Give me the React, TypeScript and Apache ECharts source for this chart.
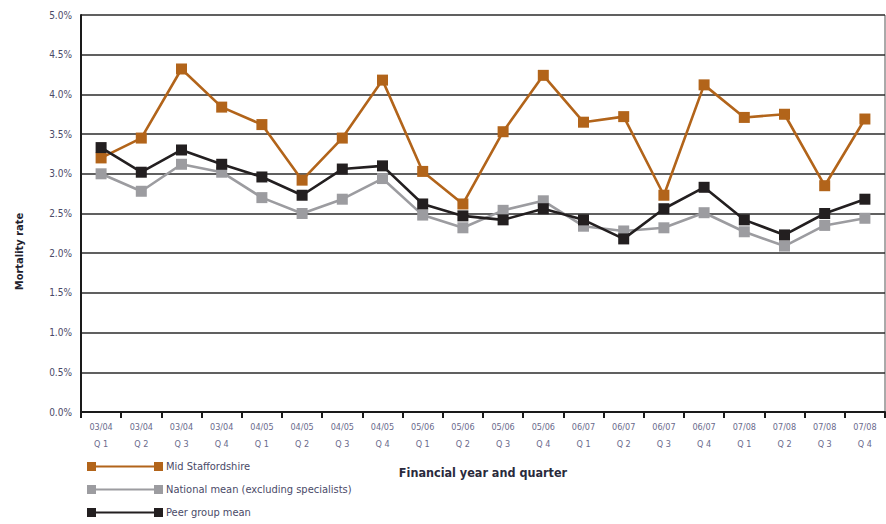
import React, { useEffect, useRef } from "react";
import * as echarts from "echarts";

// Quarterly periods, financial year on the first line and quarter on the second
const years = [
  "03/04", "03/04", "03/04", "03/04",
  "04/05", "04/05", "04/05", "04/05",
  "05/06", "05/06", "05/06", "05/06",
  "06/07", "06/07", "06/07", "06/07",
  "07/08", "07/08", "07/08", "07/08",
];
const quarters = [
  "Q 1", "Q 2", "Q 3", "Q 4",
  "Q 1", "Q 2", "Q 3", "Q 4",
  "Q 1", "Q 2", "Q 3", "Q 4",
  "Q 1", "Q 2", "Q 3", "Q 4",
  "Q 1", "Q 2", "Q 3", "Q 4",
];

// Mortality rate, per cent
const midStaffordshire = [
  3.2, 3.45, 4.32, 3.84, 3.62, 2.92, 3.45, 4.18, 3.03, 2.62,
  3.53, 4.24, 3.65, 3.72, 2.73, 4.12, 3.71, 3.75, 2.85, 3.69,
];
const nationalMean = [
  3.0, 2.78, 3.12, 3.02, 2.7, 2.5, 2.68, 2.94, 2.48, 2.32,
  2.54, 2.66, 2.34, 2.28, 2.32, 2.51, 2.27, 2.09, 2.35, 2.44,
];
const peerGroupMean = [
  3.33, 3.02, 3.3, 3.12, 2.96, 2.73, 3.06, 3.1, 2.62, 2.47,
  2.42, 2.56, 2.42, 2.18, 2.56, 2.83, 2.42, 2.23, 2.5, 2.68,
];

const seriesNames = [
  "Mid Staffordshire",
  "National mean (excluding specialists)",
  "Peer group mean",
];

const yTicks = { min: 0, max: 5, interval: 0.5 };

const ORANGE = "#b2641a";
const GREY = "#9c9ca0";
const BLACK = "#231f20";
const TEXT = "#4a4a68";
const FONT = "'Liberation Sans Narrow', 'DejaVu Sans Condensed', 'Roboto', sans-serif";

// Legend glyph: a short line capped with a square at each end
const legendIcon =
  "path://M0,0 H9 V9 H0 Z M9,3.5 H67 V5.5 H9 Z M67,0 H76 V9 H67 Z";

export default function App() {
  const ref = useRef<HTMLDivElement>(null);

  useEffect(() => {
    if (!ref.current) return;
    const chart = echarts.init(ref.current, undefined, { renderer: "svg" });
    const categories = years.map((y, i) => `${y}\n${quarters[i]}`);

    const line = (name: string, data: number[], color: string, z: number) => ({
      name,
      type: "line" as const,
      data,
      z,
      symbol: "rect",
      symbolSize: 11,
      lineStyle: { color, width: 2.6 },
      itemStyle: { color },
      emphasis: { disabled: true },
    });

    chart.setOption({
      animation: false,
      backgroundColor: "#ffffff",
      textStyle: { fontFamily: FONT },
      grid: { left: 81, right: 1, top: 15, bottom: 112, containLabel: false },
      legend: {
        orient: "vertical",
        left: 82,
        top: 456,
        height: 72,
        itemWidth: 76,
        itemHeight: 9,
        itemGap: 12,
        icon: legendIcon,
        selectedMode: false,
        textStyle: { color: TEXT, fontSize: 11, fontFamily: FONT, padding: [0, 0, 0, -2] },
        data: seriesNames,
      },
      xAxis: {
        type: "category",
        data: categories,
        boundaryGap: true,
        name: "Financial year and quarter",
        nameLocation: "middle",
        nameGap: 54,
        nameTextStyle: { color: "#2a2a3c", fontSize: 12.5, fontWeight: "bold", fontFamily: FONT },
        axisLine: { lineStyle: { color: "#1a1a1a", width: 2 } },
        axisTick: { show: true, length: 6, lineStyle: { color: "#1a1a1a", width: 2 } },
        axisLabel: {
          color: "#6a6a8c",
          fontSize: 9,
          lineHeight: 17,
          margin: 6,
          interval: 0,
          fontFamily: FONT,
        },
        splitLine: { show: false },
      },
      yAxis: {
        type: "value",
        min: yTicks.min,
        max: yTicks.max,
        interval: yTicks.interval,
        name: "Mortality rate",
        nameLocation: "middle",
        nameGap: 56,
        nameRotate: 90,
        nameTextStyle: {
          color: "#22222e",
          fontSize: 11,
          fontWeight: "bold",
          fontFamily: FONT,
          padding: [0, 76, 0, 0],
        },
        axisLine: { show: true, lineStyle: { color: "#1a1a1a", width: 2 } },
        axisTick: { show: false },
        axisLabel: {
          color: TEXT,
          fontSize: 10,
          margin: 9,
          fontFamily: FONT,
          formatter: (v: number) => `${v.toFixed(1)}%`,
        },
        splitLine: { show: true, lineStyle: { color: "#2b2b2b", width: 1.6 } },
      },
      graphic: [
        {
          type: "line",
          shape: { x1: 885, y1: 15, x2: 885, y2: 412 },
          style: { stroke: "#555", lineWidth: 1 },
          silent: true,
        },
      ],
      series: [
        line(seriesNames[0], midStaffordshire, ORANGE, 3),
        line(seriesNames[1], nationalMean, GREY, 2),
        line(seriesNames[2], peerGroupMean, BLACK, 4),
      ],
    });

    return () => chart.dispose();
  }, []);

  return (
    <div
      ref={ref}
      style={{ position: "absolute", left: 0, top: 0, width: 886, height: 524 }}
    />
  );
}
